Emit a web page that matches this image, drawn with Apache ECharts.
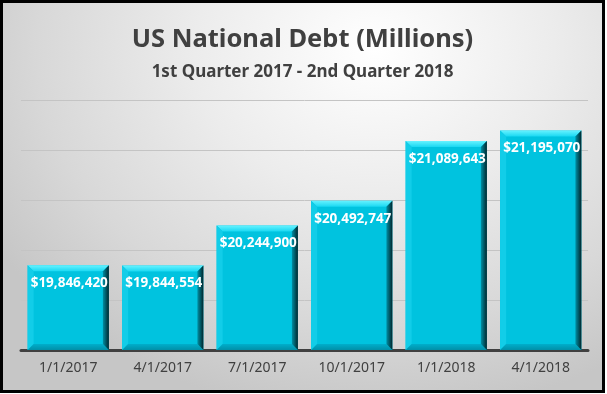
<!DOCTYPE html>
<html>
<head>
<meta charset="utf-8">
<script src="https://cdn.jsdelivr.net/npm/echarts@6/dist/echarts.min.js"></script>
<style>
html,body{margin:0;padding:0;background:#ffffff;}
#frame{position:absolute;left:0;top:0;width:605px;height:393px;box-sizing:border-box;border:3px solid #000;
background:radial-gradient(ellipse 75% 95% at 62% 12%, #ffffff 0%, #ececec 40%, #d8d8d8 75%, #c6c6c6 100%);}
#chart{position:absolute;left:0;top:0;width:599px;height:387px;}
</style>
</head>
<body>
<div id="frame"><div id="chart"></div></div>
<script>
const titleText = 'US National Debt (Millions)';
const subtitleText = '1st Quarter 2017 - 2nd Quarter 2018';
const categories = ['1/1/2017', '4/1/2017', '7/1/2017', '10/1/2017', '1/1/2018', '4/1/2018'];
const debtValues = [19846420, 19844554, 20244900, 20492747, 21089643, 21195070];
const yMin = 19000000, yMax = 21500000, yStep = 500000;

function fmt(v){ return '$' + v.toLocaleString('en-US'); }

const chart = echarts.init(document.getElementById('chart'));

function renderItem(params, api){
  const top = api.coord([api.value(0), api.value(1)]);
  const base = api.coord([api.value(0), yMin]);
  const band = api.size([1, 0])[0];
  const w = band * 0.86;
  const l = top[0] - w/2, r = top[0] + w/2, t = top[1], b = base[1];
  const e = 6;
  return {
    type: 'group',
    children: [
      {type:'rect', shape:{x:l, y:t, width:r-l, height:b-t}, style:{fill:'#00c3df'}},
      {type:'polygon', shape:{points:[[l,t],[r,t],[r-e,t+e],[l+e,t+e]]},
        style:{fill:new echarts.graphic.LinearGradient(0,0,0,1,[{offset:0,color:'#66f2ff'},{offset:1,color:'#19d8f2'}])}},
      {type:'polygon', shape:{points:[[l,t],[l+e,t+e],[l+e,b-e],[l,b]]}, style:{fill:'#12cde8'}},
      {type:'polygon', shape:{points:[[l,b],[r,b],[r-e,b-e],[l+e,b-e]]},
        style:{fill:new echarts.graphic.LinearGradient(0,0,0,1,[{offset:0,color:'#00aecb'},{offset:1,color:'#0090a8'}])}},
      {type:'polygon', shape:{points:[[r,t],[r,b],[r-e,b-e],[r-e,t+e]]},
        style:{fill:new echarts.graphic.LinearGradient(0,0,1,0,[{offset:0,color:'#008ea3'},{offset:1,color:'#00262c'}])}},
      {type:'text', style:{text:fmt(api.value(1)), x:top[0]+1, y:t+18, align:'center', verticalAlign:'middle',
        fill:'#ffffff', font:'bold 13.5px "Noto Sans", sans-serif'}}
    ]
  };
}

chart.setOption({
  animation:false,
  backgroundColor:'transparent',
  title:[
    {text:titleText, left:'center', top:19, textStyle:{fontFamily:'"Noto Sans", sans-serif', fontWeight:'bold', fontSize:25.5, color:'#404040'}},
    {text:subtitleText, left:'center', top:56, textStyle:{fontFamily:'"Noto Sans", sans-serif', fontWeight:'bold', fontSize:17, color:'#404040'}}
  ],
  grid:{left:18, right:14, top:97, bottom:40},
  xAxis:{type:'category', data:categories,
    axisLine:{lineStyle:{color:'#404040', width:3}}, axisTick:{show:false},
    axisLabel:{color:'#404040', fontSize:14, fontFamily:'"Noto Sans", sans-serif', margin:11}},
  yAxis:{type:'value', min:yMin, max:yMax, interval:yStep,
    axisLabel:{show:false}, axisLine:{show:false}, axisTick:{show:false},
    splitLine:{lineStyle:{color:'#c4c4c4', width:1}}},
  series:[{type:'custom', renderItem:renderItem, encode:{x:0, y:1},
    data: debtValues.map((v,i)=>[i, v])}]
});
</script>
</body>
</html>
